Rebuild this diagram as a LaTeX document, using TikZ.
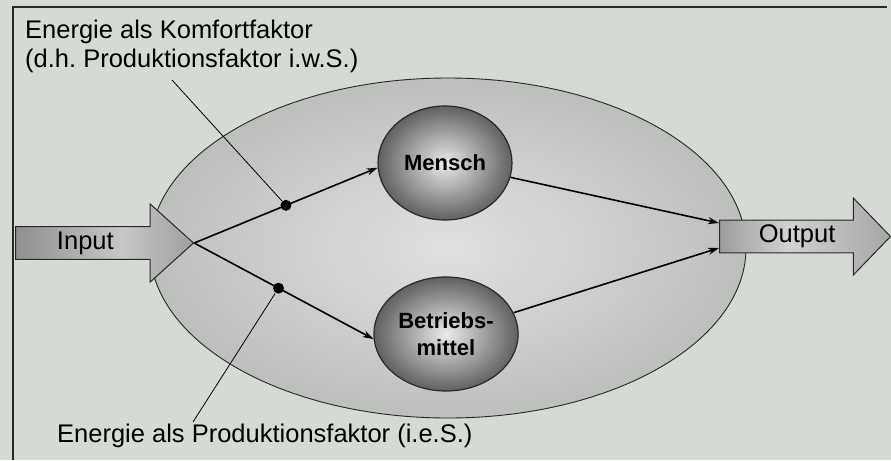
\documentclass[tikz,border=0pt]{standalone}
\usepackage{fontspec}
\setmainfont{Liberation Sans}
\frenchspacing
\usetikzlibrary{shapes.arrows,shapes.geometric,arrows.meta}
\definecolor{paper}{RGB}{214,218,213}
\definecolor{frameline}{RGB}{40,40,40}
\definecolor{systemout}{RGB}{188,191,188}
\definecolor{systemin}{RGB}{224,226,224}
\pgfdeclarehorizontalshading{inputshade}{100bp}{color(0bp)=(black!62); color(55bp)=(black!22); color(78bp)=(black!40); color(100bp)=(black!62)}
\pgfdeclarehorizontalshading{outputshade}{100bp}{color(0bp)=(black!65); color(45bp)=(black!18); color(75bp)=(black!35); color(100bp)=(black!55)}
\begin{document}
\begin{tikzpicture}[
        x=1pt, y=-1pt,
        every node/.style={font=\fontsize{25.5}{29}\selectfont},
        flowarrow/.style={
            single arrow,
            draw=frameline,
            line width=1pt,
            single arrow head extend=19pt,
            minimum width=78pt,
            inner ysep=2pt
        },
        factor/.style={
            ellipse,
            draw=frameline,
            line width=1.2pt,
            shading=radial,
            inner color=black!8,
            outer color=black!62,
            minimum width=134pt,
            minimum height=114pt,
            align=center,
            font=\bfseries\fontsize{22}{27}\selectfont
        },
        link/.style={-{Stealth[length=11pt,width=7pt]}, line width=1.6pt},
        junction/.style={circle, fill=black, inner sep=0pt, minimum size=11pt},
        leader/.style={line width=0.8pt}
    ]
        \fill[paper] (0,0) rectangle (891,460);
        \draw[frameline, line width=1.3pt] (13,460) -- (13,7) -- (887,7);

        \node[ellipse, draw=frameline, line width=0.9pt, shading=radial,
            inner color=systemin, outer color=systemout,
            minimum width=596pt, minimum height=340pt] (system) at (448,248) {};

        \node[flowarrow, shading=inputshade, anchor=tail, minimum height=178pt,
            single arrow tip angle=84] (input) at (15,243) {Input\hspace*{20pt}};
        \node[flowarrow, shading=outputshade, anchor=tail, minimum height=171pt,
            minimum width=77pt, single arrow tip angle=92] (output) at (719,236.5) {Output};

        \node[factor] (mensch) at (445,163) {Mensch};
        \node[factor] (betrieb) at (446,334) {Betriebs-\\mittel};

        \node[anchor=north west, align=left, inner sep=0pt] (komfort) at (25,19.5)
            {Energie als Komfortfaktor\\(d.h. Produktionsfaktor i.w.S.)};
        \node[anchor=base west, inner sep=0pt] (produktion) at (57,442)
            {Energie als Produktionsfaktor (i.e.S.)};
        \coordinate (komfortend) at (172,80);
        \coordinate (produktionend) at (193,422);

        \draw[link] (input.tip) -- node[junction, pos=.5] (komfortdot) {} (mensch.184);
        \draw[link] (input.tip) -- node[junction, pos=.47] (produktiondot) {} (betrieb.184);
        \draw[link] (mensch) -- ([yshift=13.5pt]output.tail);
        \draw[link] (betrieb) -- ([yshift=-11.5pt]output.tail);

        \draw[leader] (komfortend) -- (komfortdot);
        \draw[leader] (produktionend) -- (produktiondot);
    \end{tikzpicture}
\end{document}
